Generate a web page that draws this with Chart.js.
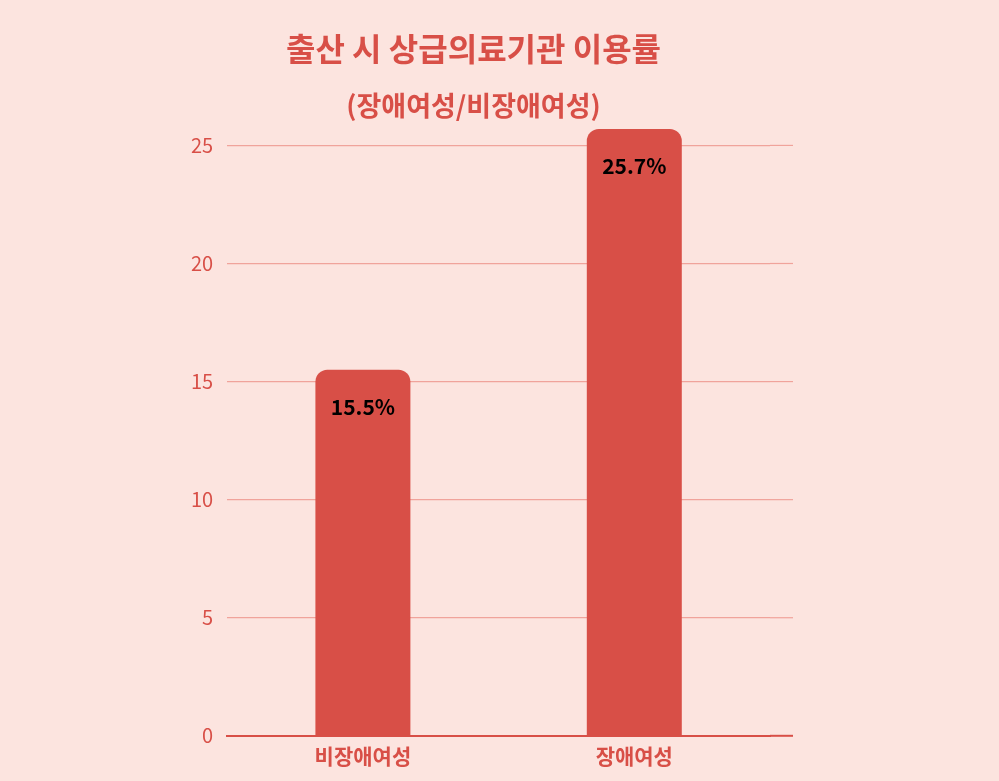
<!DOCTYPE html>
<html><head><meta charset="utf-8">
<script src="https://cdn.jsdelivr.net/npm/chart.js@4"></script>
<style>html,body{margin:0;background:#fce4df;}#w{width:999px;height:781px;}</style>
</head><body><div id="w"><canvas id="c"></canvas></div>
<script>
const categories = ['비장애여성', '장애여성'];
const values = [15.5, 25.7];
const yTicks = [0, 5, 10, 15, 20, 25];
const RED = '#d84f47';
const F = "'Noto Sans CJK KR','Noto Sans',sans-serif";
const labelPlugin = {
  id: 'lbl',
  beforeDatasetsDraw(ch) {
    const ctx = ch.ctx, y = ch.scales.y, a = ch.chartArea;
    ctx.save();
    ctx.strokeStyle = '#f0a39b'; ctx.lineWidth = 1.2;
    yTicks.slice(1).forEach(v => {
      const py = y.getPixelForValue(v);
      ctx.beginPath(); ctx.moveTo(a.right, py); ctx.lineTo(793, py); ctx.stroke();
    });
    ctx.strokeStyle = RED; ctx.lineWidth = 2;
    const p0 = y.getPixelForValue(0);
    ctx.beginPath(); ctx.moveTo(a.right, p0); ctx.lineTo(793, p0); ctx.stroke();
    ctx.restore();
  },
  afterDatasetsDraw(ch) {
    const ctx = ch.ctx;
    ch.getDatasetMeta(0).data.forEach((b, i) => {
      ctx.save();
      ctx.fillStyle = '#000';
      ctx.font = "bold 21px " + F;
      ctx.textAlign = 'center';
      ctx.textBaseline = 'middle';
      ctx.fillText(values[i] + '%', b.x, b.y + 37);
      ctx.restore();
    });
  }
};
new Chart(document.getElementById('c'), {
  type: 'bar',
  data: { labels: categories, datasets: [{ data: values, backgroundColor: RED,
    borderRadius: { topLeft: 12, topRight: 12 }, borderSkipped: 'bottom',
    barPercentage: 0.35, categoryPercentage: 1 }] },
  options: {
    responsive: true, maintainAspectRatio: false, animation: false,
    layout: { padding: { left: 177, right: 229, top: 0, bottom: 12 } },
    plugins: {
      legend: { display: false }, tooltip: { enabled: false },
      title: { display: true, text: '출산 시 상급의료기관 이용률', color: RED,
        font: { family: F, size: 32, weight: 'bold' }, padding: { top: 30, bottom: 21 } },
      subtitle: { display: true, text: '(장애여성/비장애여성)', color: RED,
        font: { family: F, size: 27, weight: 'bold' }, padding: { bottom: 0 } }
    },
    scales: {
      x: { grid: { display: false }, border: { color: RED, width: 2 },
        ticks: { color: RED, font: { family: F, size: 21, weight: 'bold' }, padding: 0 } },
      y: { min: 0, max: 26, border: { display: false },
        afterBuildTicks: s => { s.ticks = yTicks.map(v => ({ value: v })); },
        grid: { color: '#f0a39b', lineWidth: 1.2, drawTicks: false },
        ticks: { color: RED, padding: 14, font: { family: F, size: 20 } } }
    }
  },
  plugins: [labelPlugin]
});
</script></body></html>
